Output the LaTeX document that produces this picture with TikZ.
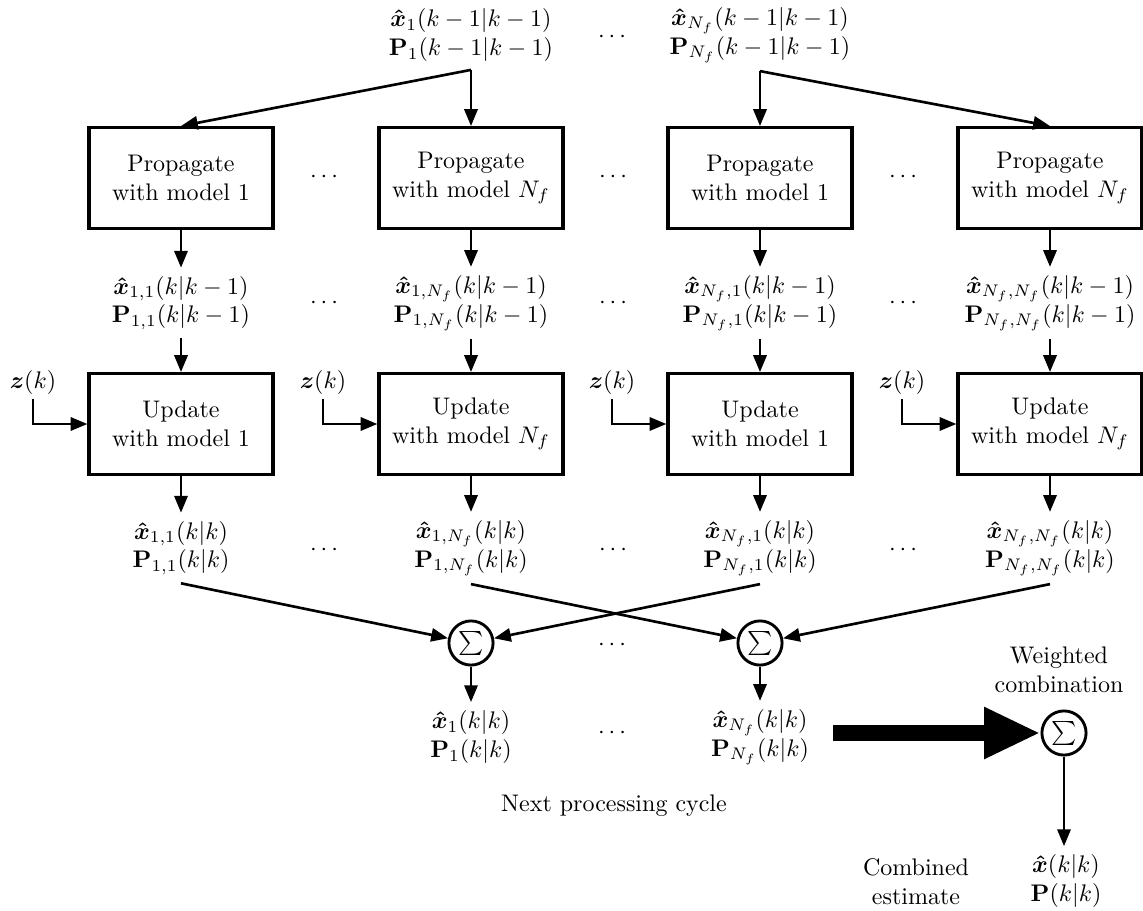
\documentclass[tikz,border=0pt]{standalone}
\usepackage{amsmath}
\usepackage{bm}
\usetikzlibrary{arrows.meta}

\newcommand{\xh}{\bm{\hat{x}}}
\newcommand{\Pm}{\mathbf{P}}

\tikzset{
  arr/.style={line width=1.1pt,-{Triangle[length=7pt,width=5.5pt]}},
  block/.style={draw,line width=1.3pt,minimum width=76.7pt,minimum height=42pt,align=center,inner sep=2pt},
  est/.style={align=center,inner sep=3.33pt},
  sumnode/.style={draw,circle,line width=1.2pt,minimum size=18.4pt,inner sep=0pt},
  dotsnode/.style={inner sep=1pt},
  thickarr/.style={line width=6.8pt,-{Triangle[length=23.5pt,width=20pt]}},
  note/.style={align=center,inner sep=2pt}
}

\begin{document}
\begin{tikzpicture}[x=0.41667pt,y=-0.41667pt]
\useasboundingbox (0,0) rectangle (1143,911);

% previous estimates
\node[est] (tl1) at (471,35) {$\xh_1(k-1|k-1)$\\$\Pm_1(k-1|k-1)$};
\node[est] (tl2) at (760,35) {$\xh_{N_f}(k-1|k-1)$\\$\Pm_{N_f}(k-1|k-1)$};
\node[dotsnode] (dt0) at (614,37) {$\cdots$};

% propagation blocks
\node[block] (p1) at (181,178) {Propagate\\with model 1};
\node[block] (p2) at (471,178) {Propagate\\with model $N_f$};
\node[block] (p3) at (760,178) {Propagate\\with model 1};
\node[block] (p4) at (1050,178) {Propagate\\with model $N_f$};
\node[dotsnode] (dp1) at (326,177) {$\cdots$};
\node[dotsnode] (dp2) at (615,177) {$\cdots$};
\node[dotsnode] (dp3) at (905,177) {$\cdots$};

% predicted estimates
\node[est] (m1) at (181,303) {$\xh_{1,1}(k|k-1)$\\$\Pm_{1,1}(k|k-1)$};
\node[est] (m2) at (471,303) {$\xh_{1,N_f}(k|k-1)$\\$\Pm_{1,N_f}(k|k-1)$};
\node[est] (m3) at (760,303) {$\xh_{N_f,1}(k|k-1)$\\$\Pm_{N_f,1}(k|k-1)$};
\node[est] (m4) at (1050,303) {$\xh_{N_f,N_f}(k|k-1)$\\$\Pm_{N_f,N_f}(k|k-1)$};
\node[dotsnode] (dm1) at (326,303) {$\cdots$};
\node[dotsnode] (dm2) at (615,303) {$\cdots$};
\node[dotsnode] (dm3) at (905,303) {$\cdots$};

% update blocks
\node[block] (u1) at (181,424) {Update\\with model 1};
\node[block] (u2) at (471,424) {Update\\with model $N_f$};
\node[block] (u3) at (760,424) {Update\\with model 1};
\node[block] (u4) at (1050,424) {Update\\with model $N_f$};

% measurements
\node[inner sep=2pt] (z1) at (33,382) {$\bm{z}(k)$};
\node[inner sep=2pt] (z2) at (323,382) {$\bm{z}(k)$};
\node[inner sep=2pt] (z3) at (612,382) {$\bm{z}(k)$};
\node[inner sep=2pt] (z4) at (902,382) {$\bm{z}(k)$};

% updated estimates
\node[est] (n1) at (181,548) {$\xh_{1,1}(k|k)$\\$\Pm_{1,1}(k|k)$};
\node[est] (n2) at (471,548) {$\xh_{1,N_f}(k|k)$\\$\Pm_{1,N_f}(k|k)$};
\node[est] (n3) at (760,548) {$\xh_{N_f,1}(k|k)$\\$\Pm_{N_f,1}(k|k)$};
\node[est] (n4) at (1050,548) {$\xh_{N_f,N_f}(k|k)$\\$\Pm_{N_f,N_f}(k|k)$};
\node[dotsnode] (dn1) at (326,550) {$\cdots$};
\node[dotsnode] (dn2) at (615,550) {$\cdots$};
\node[dotsnode] (dn3) at (905,550) {$\cdots$};

% summations per filter bank
\node[sumnode] (s1) at (471,643) {$\sum$};
\node[sumnode] (s2) at (760,643) {$\sum$};
\node[dotsnode] (ds) at (614,645) {$\cdots$};

% combined bank estimates
\node[est] (o1) at (471,737) {$\xh_1(k|k)$\\$\Pm_1(k|k)$};
\node[est] (o2) at (760,737) {$\xh_{N_f}(k|k)$\\$\Pm_{N_f}(k|k)$};
\node[dotsnode] (do) at (614,733) {$\cdots$};

\node[note] (cyc) at (614,806) {Next processing cycle};

% final weighted combination
\node[sumnode] (S) at (1064,733) {$\sum$};
\node[note] (wc) at (1059,670) {Weighted\\combination};
\node[est] (fo) at (1066,881) {$\xh(k|k)$\\$\Pm(k|k)$};
\node[note] (ce) at (916,882) {Combined\\estimate};
\coordinate (thk) at (833,733);

% connectors
\draw[arr] (tl1.south) -- (p1.north);
\draw[arr] (tl1.south) -- (p2.north);
\draw[arr] (tl2.south) -- (p3.north);
\draw[arr] (tl2.south) -- (p4.north);

\foreach \i in {1,2,3,4}{
  \draw[arr] (p\i.south) -- (m\i.north);
  \draw[arr] (m\i.south) -- (u\i.north);
  \draw[arr] (u\i.south) -- (n\i.north);
  \draw[arr] (z\i.south) |- (u\i.west);
}

\draw[arr] (n1.south) -- (s1);
\draw[arr] (n3.south) -- (s1);
\draw[arr] (n2.south) -- (s2);
\draw[arr] (n4.south) -- (s2);

\draw[arr] (s1.south) -- (o1.north);
\draw[arr] (s2.south) -- (o2.north);

\draw[thickarr] (thk) -- (S.west);
\draw[arr] (S.south) -- (S.south |- fo.north);
\end{tikzpicture}
\end{document}
